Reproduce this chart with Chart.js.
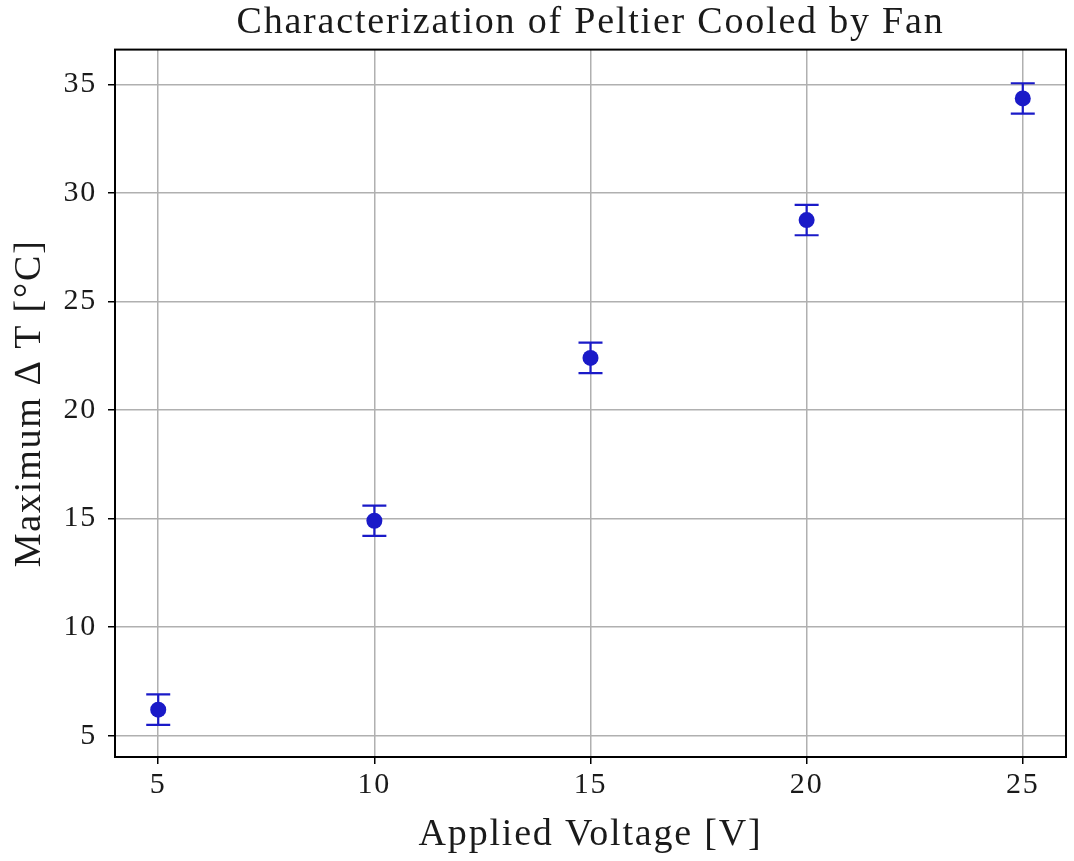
<!DOCTYPE html>
<html>
<head>
<meta charset="utf-8">
<script src="https://cdn.jsdelivr.net/npm/chart.js@4/dist/chart.umd.min.js"></script>
<style>
html,body{margin:0;padding:0;background:#fff;}
#wrap{width:1074px;height:861px;}
</style>
</head>
<body>
<div id="wrap"><canvas id="c" width="1074" height="861"></canvas></div>
<script>
const voltages = [5, 10, 15, 20, 25];
const deltaT = [6.2, 14.9, 22.4, 28.75, 34.35];
const deltaTErr = [0.7, 0.7, 0.7, 0.7, 0.7];
const xTicks = [5, 10, 15, 20, 25];
const yTicks = [5, 10, 15, 20, 25, 30, 35];

const FONT = "'Liberation Serif', 'DejaVu Serif', serif";
const MARK = '#1a1ac8';
const TXT = '#1a1a1a';

const spacing = {
  id: 'spacing',
  beforeUpdate(chart) { chart.ctx.letterSpacing = '1.8px'; },
  beforeDraw(chart) { chart.ctx.letterSpacing = '1.8px'; }
};

const errorBars = {
  id: 'errorBars',
  beforeDatasetsDraw(chart) {
    const ctx = chart.ctx, xs = chart.scales.x, ys = chart.scales.y;
    ctx.save();
    ctx.strokeStyle = MARK;
    ctx.lineWidth = 2.2;
    voltages.forEach((v, i) => {
      const x = xs.getPixelForValue(v);
      const y1 = ys.getPixelForValue(deltaT[i] - deltaTErr[i]);
      const y2 = ys.getPixelForValue(deltaT[i] + deltaTErr[i]);
      ctx.beginPath();
      ctx.moveTo(x, y1); ctx.lineTo(x, y2);
      ctx.moveTo(x - 12, y1); ctx.lineTo(x + 12, y1);
      ctx.moveTo(x - 12, y2); ctx.lineTo(x + 12, y2);
      ctx.stroke();
    });
    ctx.restore();
  }
};

const frame = {
  id: 'frame',
  afterDraw(chart) {
    const a = chart.chartArea, ctx = chart.ctx;
    ctx.save();
    ctx.strokeStyle = '#000';
    ctx.lineWidth = 2;
    ctx.strokeRect(a.left, a.top, a.right - a.left, a.bottom - a.top);
    ctx.restore();
  }
};

new Chart(document.getElementById('c'), {
  type: 'scatter',
  data: {
    datasets: [{
      data: voltages.map((v, i) => ({x: v, y: deltaT[i]})),
      backgroundColor: MARK,
      borderColor: MARK,
      pointRadius: 8,
      pointHoverRadius: 8,
      borderWidth: 0
    }]
  },
  options: {
    responsive: false,
    animation: false,
    layout: {padding: {left: 0, right: 4, top: 0, bottom: 0}},
    plugins: {
      legend: {display: false},
      tooltip: {enabled: false},
      title: {
        display: true,
        fullSize: false,
        text: 'Characterization of Peltier Cooled by Fan',
        color: TXT,
        font: {family: FONT, size: 38, weight: 'normal', lineHeight: 1.2},
        padding: {top: 0, bottom: 4}
      }
    },
    scales: {
      x: {
        type: 'linear',
        min: 4, max: 26,
        afterBuildTicks: s => { s.ticks = xTicks.map(v => ({value: v})); },
        afterFit: s => { s.height = 861 - 757; },
        grid: {color: '#b0b0b0', lineWidth: 1.5, tickColor: '#000', tickLength: 7, tickWidth: 1.5},
        border: {display: false},
        ticks: {color: TXT, font: {family: FONT, size: 30}, padding: 3, maxRotation: 0},
        title: {display: true, text: 'Applied Voltage [V]', color: TXT,
                font: {family: FONT, size: 38}, padding: {top: 0, bottom: 3}}
      },
      y: {
        type: 'linear',
        min: 4.02, max: 36.6,
        afterBuildTicks: s => { s.ticks = yTicks.map(v => ({value: v})); },
        afterFit: s => { s.width = 115; },
        grid: {color: '#b0b0b0', lineWidth: 1.5, tickColor: '#000', tickLength: 7, tickWidth: 1.5},
        border: {display: false},
        ticks: {color: TXT, font: {family: FONT, size: 30}, padding: 11},
        title: {display: true, text: 'Maximum \u2206 T [\u00B0C]', color: TXT,
                font: {family: FONT, size: 38}, padding: {top: 7, bottom: 0}}
      }
    }
  },
  plugins: [spacing, errorBars, frame]
});
</script>
</body>
</html>
